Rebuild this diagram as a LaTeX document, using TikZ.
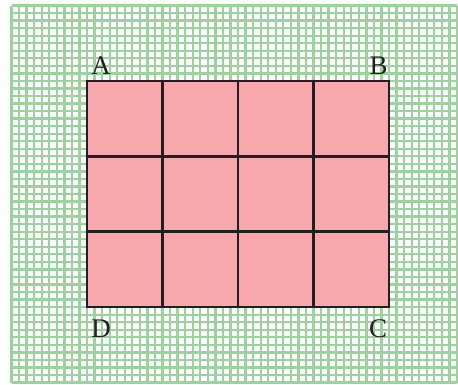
\documentclass[tikz,border=0pt]{standalone}
\usepackage{fontspec}
\setmainfont{Liberation Serif}
\definecolor{gridgreen}{HTML}{9CD29E}
\definecolor{pinkfill}{HTML}{F6A8AC}
\definecolor{inkblack}{HTML}{231F20}
\begin{document}
\begin{tikzpicture}[x=1bp,y=-1bp,
  gridline/.style={draw=gridgreen,line width=2.3bp},
  edgeline/.style={draw=inkblack,line width=2.8bp},
  vertexlabel/.style={anchor=base,inner sep=0pt,text=inkblack,font=\fontsize{27}{27}\selectfont}]
\useasboundingbox (0,0) rectangle (458,384);
\fill[white] (0,0) rectangle (458,384);
% graph paper
\foreach \k in {0,...,59}
  \draw[gridline] ({11.5+7.55*\k},5.5) -- ({11.5+7.55*\k},383);
\foreach \k in {0,...,50}
  \draw[gridline] (11.5,{5.5+7.54*\k}) -- (457,{5.5+7.54*\k});
% rectangle
\fill[pinkfill] (87,81) rectangle (389,307);
\foreach \i in {1,2,3}
  \draw[edgeline] ({87+75.5*\i},81) -- ({87+75.5*\i},307);
\foreach \j in {1,2}
  \draw[edgeline] (87,{81+75.33*\j}) -- (389,{81+75.33*\j});
\draw[edgeline] (87,81) rectangle (389,307);
% labels
\node[vertexlabel] (A) at (101,74) {A};
\node[vertexlabel] (B) at (378.5,74) {B};
\node[vertexlabel] (D) at (101,337) {D};
\node[vertexlabel] (C) at (378,337) {C};
\end{tikzpicture}
\end{document}
